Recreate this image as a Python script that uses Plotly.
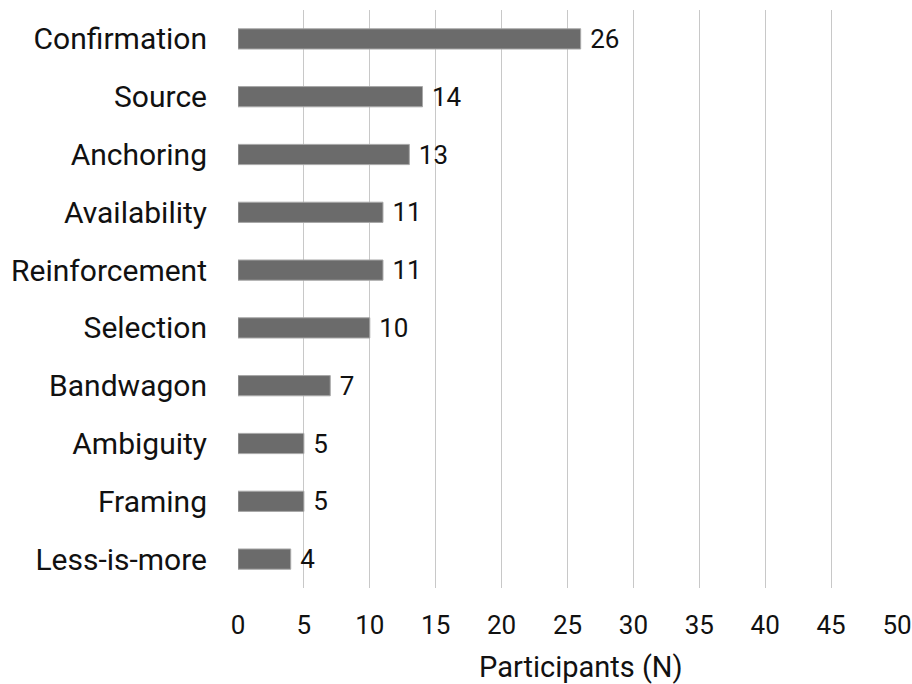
import plotly.graph_objects as go

categories = ["Confirmation", "Source", "Anchoring", "Availability", "Reinforcement",
              "Selection", "Bandwagon", "Ambiguity", "Framing", "Less-is-more"]
values = [26, 14, 13, 11, 11, 10, 7, 5, 5, 4]
x_ticks = [0, 5, 10, 15, 20, 25, 30, 35, 40, 45, 50]
x_title = "Participants (N)"

FONT = "Roboto"

fig = go.Figure(go.Bar(
    x=values,
    y=categories,
    orientation="h",
    width=0.35,
    marker=dict(color="#6b6b6b", line=dict(color="#a8a8a8", width=1)),
    text=[" " + str(v) for v in values],
    textposition="outside",
    constraintext="none",
    textfont=dict(family=FONT, size=26, color="#111111"),
    cliponaxis=False,
))

fig.update_layout(
    width=912, height=684,
    margin=dict(l=238, r=15, t=10, b=96),
    paper_bgcolor="white", plot_bgcolor="white",
    showlegend=False,
    font=dict(family=FONT, color="#111111"),
    annotations=[dict(
        text=x_title, xref="paper", yref="paper", x=0.52, y=-0.137,
        xanchor="center", yanchor="middle", showarrow=False,
        font=dict(family=FONT, size=29, color="#111111"),
    )],
)
fig.update_xaxes(
    range=[0, 50], tickvals=x_ticks, ticktext=[str(t) for t in x_ticks],
    showgrid=True, gridcolor="#c8c8c8", gridwidth=1,
    zeroline=False, showline=False, ticks="",
    automargin=False,
    ticklabelstandoff=19,
    tickfont=dict(family=FONT, size=26, color="#111111"),
)
fig.update_yaxes(
    categoryorder="array", categoryarray=categories, autorange="reversed",
    showgrid=False, zeroline=False, showline=False, ticks="",
    automargin=False,
    ticklabelstandoff=30,
    tickfont=dict(family=FONT, size=30, color="#111111"),
)

fig.write_html("out.html")
